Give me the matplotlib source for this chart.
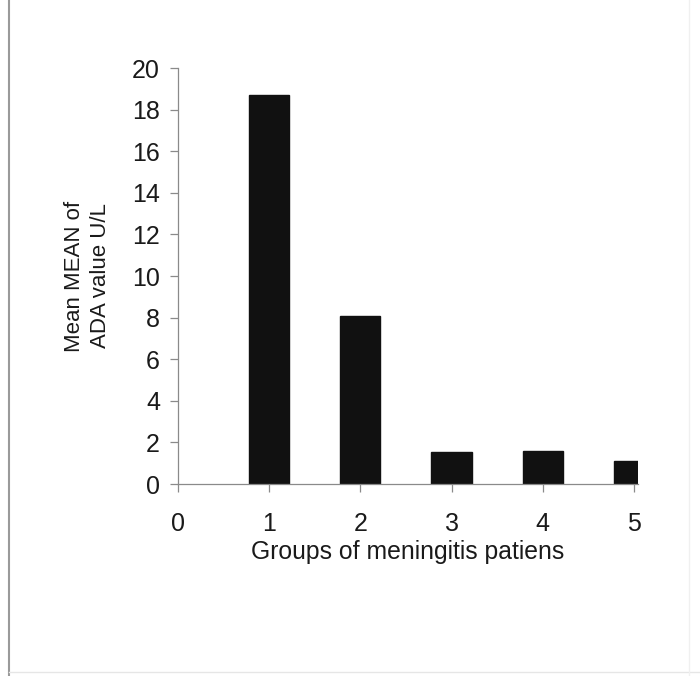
import matplotlib
matplotlib.use("Agg")
from matplotlib import pyplot as plt
from matplotlib.lines import Line2D

plt.rcParams['font.family'] = ['Liberation Sans', 'DejaVu Sans']

# mean ADA value per group of meningitis patients
groups = [1, 2, 3, 4, 5]
mean_ada = [18.7, 8.1, 1.55, 1.6, 1.1]
x_ticks = [0, 1, 2, 3, 4, 5]
y_ticks = [0, 2, 4, 6, 8, 10, 12, 14, 16, 18, 20]

W, H = 700, 676
fig = plt.figure(figsize=(W / 100, H / 100), dpi=100)
ax = fig.add_axes([178 / W, (H - 484) / H, (638 - 178) / W, (484 - 68) / H])

ax.bar(groups, mean_ada, width=0.44, color='#111111', edgecolor='#111111')

ax.set_xlim(0, 5.045)
ax.set_ylim(0, 20)
ax.set_xticks(x_ticks)
ax.set_yticks(y_ticks)

for side in ['top', 'right']:
    ax.spines[side].set_visible(False)
for side in ['left', 'bottom']:
    ax.spines[side].set_color('#8a8a8a')
    ax.spines[side].set_linewidth(0.9)

ax.tick_params(axis='both', colors='#8a8a8a', length=6, width=0.9,
               labelcolor='#1a1a1a', labelsize=18)
ax.tick_params(axis='y', pad=7)
ax.tick_params(axis='x', pad=14)

ax.set_xlabel('Groups of meningitis patiens', fontsize=17.8, color='#1a1a1a', labelpad=3)
ax.set_ylabel('Mean MEAN of\nADA value U/L', fontsize=16, color='#1a1a1a',
              labelpad=15, linespacing=1.3)

# page frame around the chart
fig.add_artist(Line2D([9 / W, 9 / W], [0, 1], color='#9a9a9a', lw=1.5))
fig.add_artist(Line2D([9 / W, 1], [4 / H, 4 / H], color='#e6e6e6', lw=1.0))
fig.add_artist(Line2D([689 / W, 689 / W], [0, 1], color='#f0f0f0', lw=1.0))

fig.savefig('out.png', dpi=100)
